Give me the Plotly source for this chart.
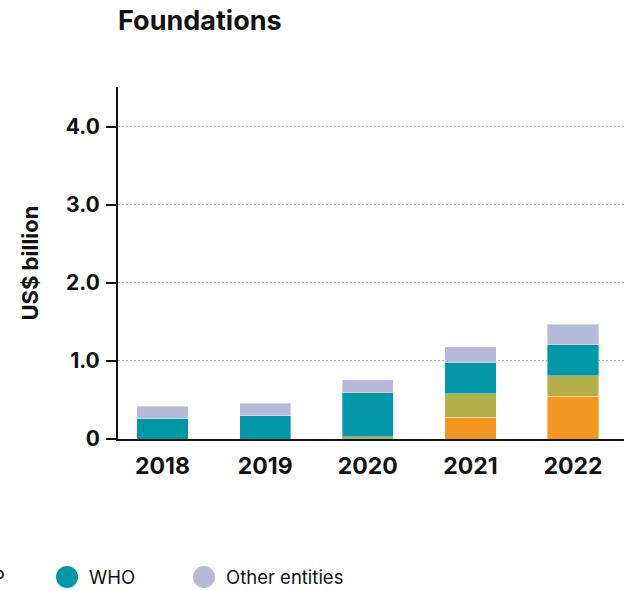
import plotly.graph_objects as go

# Voluntary funding from foundations, US$ billion
years = ["2018", "2019", "2020", "2021", "2022"]
unicef = [0.0, 0.0, 0.0, 0.28, 0.55]
undp = [0.0, 0.0, 0.03, 0.30, 0.26]
who = [0.26, 0.30, 0.56, 0.40, 0.40]
other = [0.16, 0.16, 0.17, 0.20, 0.26]

series_names = ["UNICEF", "UNDP", "WHO", "Other entities"]
series_values = [unicef, undp, who, other]
colors = ["#F2971F", "#B5B14A", "#0098A6", "#B6B9D8"]

y_tickvals = [0, 1, 2, 3, 4]
y_ticktext = ["0", "1.0", "2.0", "3.0", "4.0"]

FONT = "Inter"

fig = go.Figure()
for name, vals, col in zip(series_names, series_values, colors):
    fig.add_trace(go.Bar(
        x=years, y=vals, name=name, showlegend=False,
        marker=dict(color=col, line=dict(color="rgba(255,255,255,0.6)", width=0.6)),
    ))

# Plot area geometry (pixels) used to place the custom legend
W, H = 628, 591
L, R, T, B = 118, 4, 87, 152
pw, ph = W - L - R, H - T - B

def px_x(px):
    return (px - L) / pw

def px_y(py):
    return (H - B - py) / ph

# Circle-marker legend laid out in a single row
legend_y = 577
circle_d = 22
legend_items = [
    ("UNICEF", colors[0], -207),
    ("UNDP", colors[1], -70),
    ("WHO", colors[2], 67),
    ("Other entities", colors[3], 204),
]
shapes = []
annotations = []
for label, col, cx in legend_items:
    shapes.append(dict(
        type="circle", xref="paper", yref="paper",
        x0=px_x(cx - circle_d / 2), x1=px_x(cx + circle_d / 2),
        y0=px_y(legend_y + circle_d / 2), y1=px_y(legend_y - circle_d / 2),
        fillcolor=col, line=dict(width=0),
    ))
    annotations.append(dict(
        text=label, xref="paper", yref="paper",
        x=px_x(cx + 20), y=px_y(legend_y), xanchor="left", yanchor="middle",
        showarrow=False, font=dict(family=FONT, size=18.5, color="#111111"),
    ))

fig.update_layout(
    barmode="stack",
    bargap=0.5,
    width=W, height=H,
    margin=dict(l=L, r=R, t=T, b=B, autoexpand=False),
    paper_bgcolor="white",
    plot_bgcolor="white",
    font=dict(family=FONT, color="#111111"),
    title=dict(
        text="<b>Foundations</b>", x=L / W, xanchor="left",
        xref="container", y=1 - 21 / H, yref="container", yanchor="middle",
        font=dict(family=FONT, size=27, color="#111111"),
    ),
    shapes=shapes,
    annotations=annotations,
    xaxis=dict(
        type="category",
        range=[-0.434, 4.497],
        showline=True, linecolor="#111111", linewidth=2,
        showgrid=False, ticks="",
        ticklabelstandoff=5,
        tickfont=dict(family=FONT, size=23, color="#111111", weight="bold"),
        fixedrange=True,
    ),
    yaxis=dict(
        range=[0, 4.51],
        tickvals=y_tickvals, ticktext=y_ticktext,
        showline=True, linecolor="#111111", linewidth=2,
        ticks="outside", ticklen=10, tickwidth=2, tickcolor="#111111",
        ticklabelstandoff=2,
        showgrid=True, gridcolor="#b0b0b0", gridwidth=1, griddash="2px,2px",
        zeroline=False,
        tickfont=dict(family=FONT, size=21, color="#111111", weight="bold"),
        title=dict(text="<b>US$ billion</b>", standoff=21,
                   font=dict(family=FONT, size=22, color="#111111")),
        fixedrange=True,
    ),
)

fig.write_html("out.html")
